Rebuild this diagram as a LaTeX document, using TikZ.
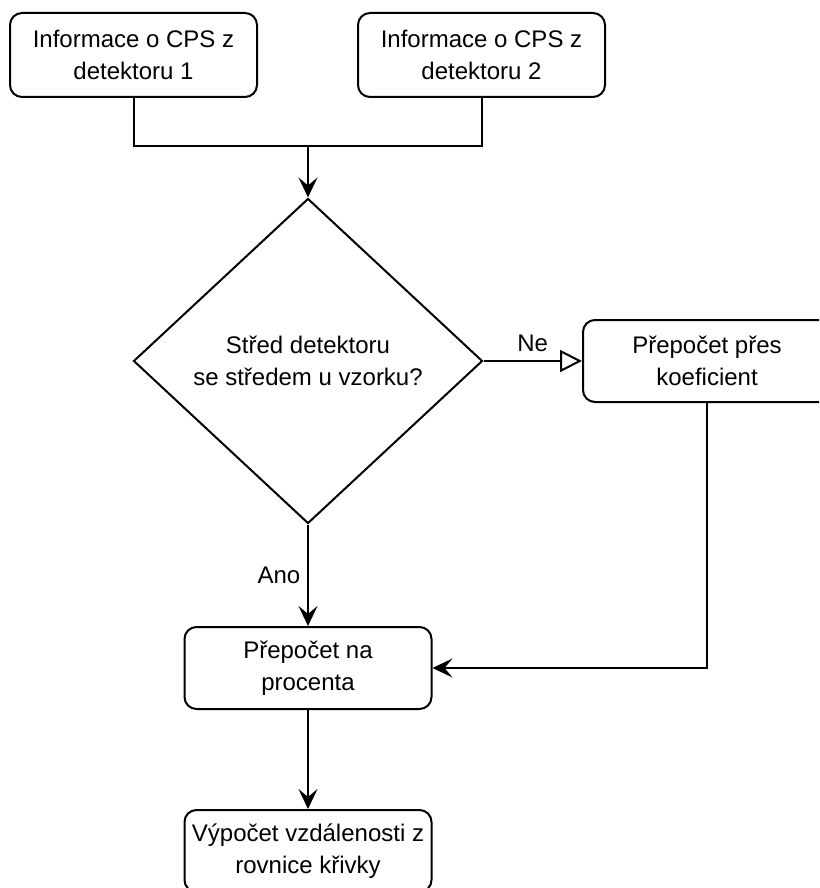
\documentclass[tikz,border=0pt]{standalone}
\usepackage{fontspec}
\setmainfont{Liberation Sans}
\usetikzlibrary{shapes.geometric,arrows.meta}

\begin{document}
\begin{tikzpicture}[x=0.5pt,y=-0.5pt,
        font=\fontsize{12}{16}\selectfont,
        line width=1pt,
        box/.style={draw, rounded corners=6pt, align=center, inner sep=0pt,
            minimum width=123.5pt, minimum height=41pt},
        decision/.style={draw, diamond, align=center, inner sep=0pt,
            minimum width=174.5pt, minimum height=162.5pt},
        flow/.style={-{Stealth[length=10pt,width=9.5pt,inset=4pt]}},
        nobranch/.style={-{Triangle[open,length=11pt,width=11pt,fill=white]}}]
        \path[fill=white, use as bounding box] (0,0) rectangle (819,888);
        \clip (0,0) rectangle (819,888);

        \node[box, minimum height=42pt] (det1) at (133.5,55) {Informace o CPS z\\detektoru 1};
        \node[box, minimum height=42pt] (det2) at (481.5,55) {Informace o CPS z\\detektoru 2};
        \coordinate (join) at (308,146);
        \node[decision] (stred) at (308,361) {Střed detektoru\\se středem u vzorku?};
        \node[box, minimum width=124pt] (koef) at (707,361) {Přepočet přes\\koeficient};
        \node[box] (proc) at (308,668) {Přepočet na\\procenta};
        \node[box] (vypocet) at (308,851) {Výpočet vzdálenosti z\\rovnice křivky};

        \draw (det1.south) |- (join) -| (det2.south);
        \draw[flow] (join) -- (stred.north);
        \draw[nobranch] (stred.east) -- node[above=1pt] {Ne} (koef.west);
        \draw[flow] (stred.south) -- node[left=0pt] {Ano} (proc.north);
        \draw[flow] (koef.south) |- (proc.east);
        \draw[flow] (proc.south) -- (vypocet.north);
    \end{tikzpicture}
\end{document}
